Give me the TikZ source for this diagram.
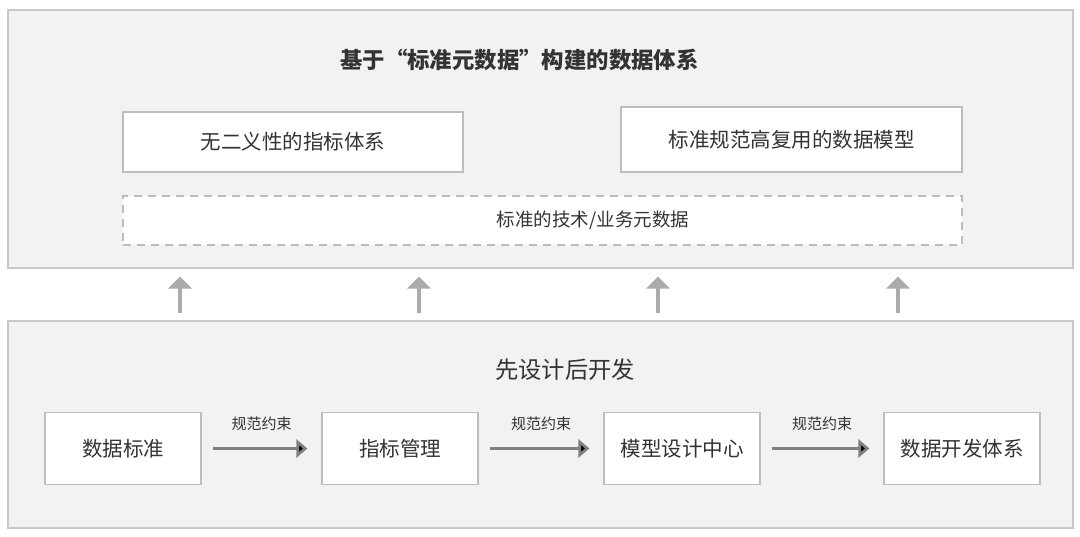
\documentclass[tikz,border=0pt]{standalone}
\usepackage{fontspec}
\setmainfont{Noto Sans CJK SC}
\usepackage{tikz}
\usetikzlibrary{arrows.meta,positioning}

\definecolor{panelfill}{HTML}{F2F2F2}
\definecolor{panelline}{HTML}{C9C9C9}
\definecolor{boxline}{HTML}{BDBDBD}
\definecolor{txt}{HTML}{333333}
\definecolor{flowgray}{HTML}{7F7F7F}
\definecolor{upgray}{HTML}{ABABAB}

\tikzset{
  panel/.style={draw=panelline,fill=panelfill,line width=1.2pt,inner sep=0pt},
  block/.style={draw=boxline,fill=white,line width=1.2pt,text=txt,inner sep=0pt,
    font=\fontsize{20.5}{24}\selectfont},
  metabox/.style={block,dash pattern=on 8pt off 6pt,font=\fontsize{18.5}{22}\selectfont},
  flow/.style={draw=flowgray,line width=3pt,-{Triangle[length=11pt,width=18pt]},
    shorten <=11pt,shorten >=14pt},
  uparrow/.style={draw=upgray,line width=4pt,-{Triangle[length=12pt,width=23pt]},
    shorten <=7.5pt,shorten >=8pt},
  rule/.style={text=txt,font=\fontsize{15}{18}\selectfont}
}

\begin{document}
\begin{tikzpicture}[x=1pt,y=-1pt]
   \useasboundingbox (0,0) rectangle (1080,536);
   % two panels
   \node[panel,minimum width=1065,minimum height=258] (upper) at (540.5,139) {};
   \node[panel,minimum width=1065,minimum height=207] (lower) at (540.5,424.5) {};
   \node[text=txt,font=\bfseries\fontsize{22.4}{27}\selectfont] (uptitle) at (519.5,60)
     {基于\makebox[1em][r]{“}标准元数据\makebox[1em][l]{”}构建的数据体系};
   \node[text=txt,font=\fontsize{23.3}{28}\selectfont] (lowtitle) at (565,370) {先设计后开发};
   % upper panel
   \node[block,minimum width=340,minimum height=60] (metric) at (293,142) {无二义性的指标体系};
   \node[block,minimum width=341,minimum height=65] (model) at (791.5,139.5) {标准规范高复用的数据模型};
   \node[metabox,minimum width=839,minimum height=49] (meta) at (542.5,220.5)
     {\hspace*{101pt}标准的技术/业务元数据};
   % lower panel
   \node[block,minimum width=156,minimum height=72] (std) at (123,448.5) {数据标准};
   \node[block,minimum width=156,minimum height=72] (mgmt) [right=119.8pt of std] {指标管理};
   \node[block,minimum width=156,minimum height=72] (design) [right=124.8pt of mgmt] {模型设计中心};
   \node[block,minimum width=156,minimum height=72] (dev) [right=122.8pt of design] {数据开发体系};
   \path[flow]
    (std) edge node[rule,yshift=25pt] {规范约束} (mgmt)
    (mgmt) edge node[rule,yshift=25pt] {规范约束} (design)
    (design) edge node[rule,yshift=25pt] {规范约束} (dev);
   \foreach \x in {180,419,658,898}
     \draw[uparrow] (\x,0 |- lower.north) -- (\x,0 |- upper.south);
\end{tikzpicture}
\end{document}
